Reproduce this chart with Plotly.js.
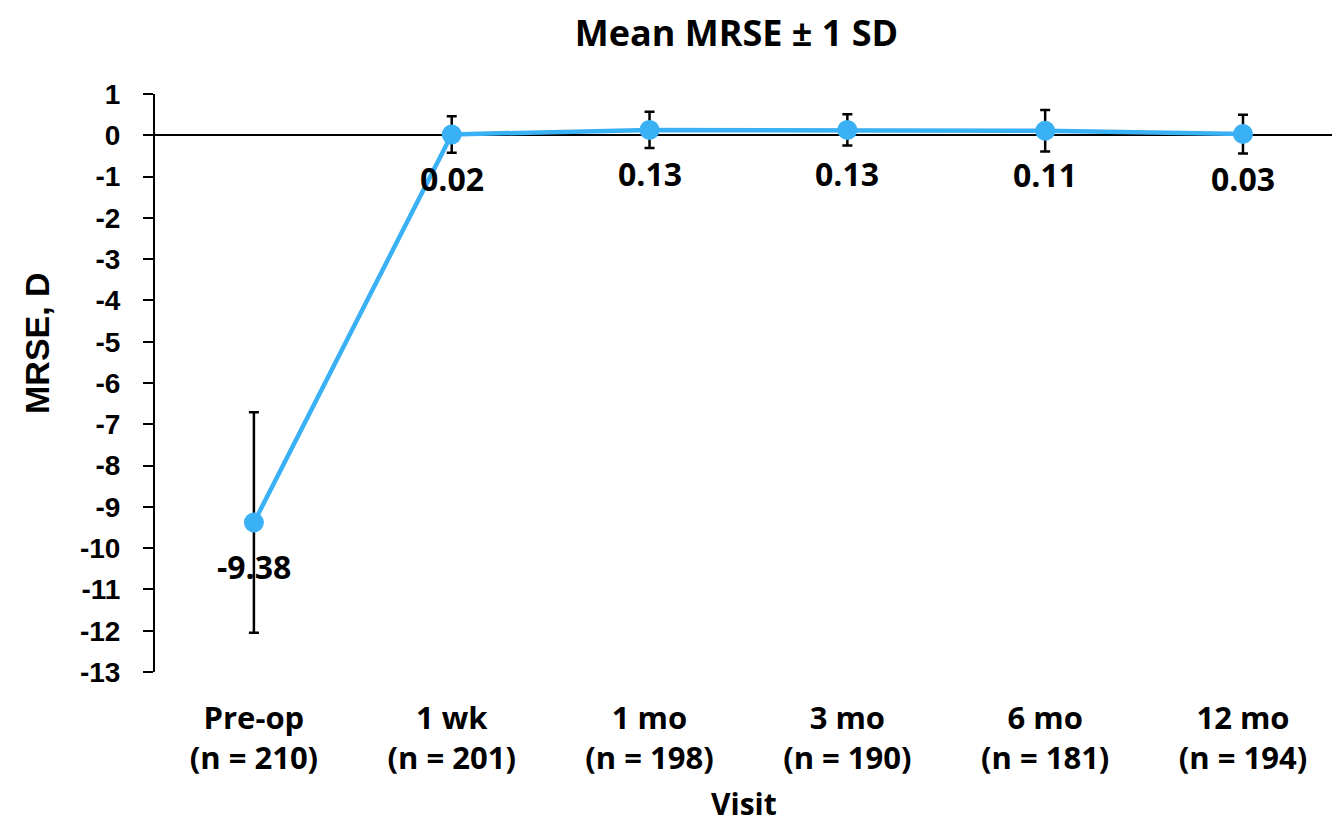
<!DOCTYPE html>
<html>
<head>
<meta charset="utf-8">
<script src="https://cdn.plot.ly/plotly-3.0.1.min.js"></script>
<style>html,body{margin:0;padding:0;background:#fff;}#chart{width:1332px;height:826px;}</style>
</head>
<body>
<div id="chart"></div>
<script>
const visits = ["Pre-op", "1 wk", "1 mo", "3 mo", "6 mo", "12 mo"];
const counts = [210, 201, 198, 190, 181, 194];
const meanMRSE = [-9.38, 0.02, 0.13, 0.13, 0.11, 0.03];
const sdMRSE = [2.67, 0.44, 0.44, 0.38, 0.50, 0.47];
const yTicks = [1, 0, -1, -2, -3, -4, -5, -6, -7, -8, -9, -10, -11, -12, -13];

const cats = visits.map((v, i) => v + "<br>(n = " + counts[i] + ")");
const blue = "rgb(58,176,245)";
const labelFont = {family: "Open Sans, sans-serif", size: 32, color: "#000", weight: 700};
const xFont = {family: "Open Sans, sans-serif", size: 31, color: "#000", weight: 700};

const trace = {
  x: cats,
  y: meanMRSE,
  type: "scatter",
  mode: "lines+markers",
  line: {color: blue, width: 4.5},
  marker: {color: blue, size: 20},
  error_y: {type: "data", array: sdMRSE, visible: true, color: "#000", thickness: 2.5, width: 5},
  cliponaxis: false,
  hoverinfo: "none"
};

const annotations = meanMRSE.map((v, i) => ({
  x: cats[i], y: v, xref: "x", yref: "y",
  text: v.toFixed(2), showarrow: false, yshift: -44,
  font: labelFont
}));
annotations.push({
  xref: "paper", yref: "paper", x: 0.5, y: 0, yshift: -131, yanchor: "middle",
  text: "Visit", showarrow: false,
  font: {family: "Open Sans, sans-serif", size: 30, color: "#000", weight: 700}
});
annotations.push({
  xref: "paper", yref: "paper", x: 0, xshift: -118, y: 0.5, yshift: 40,
  xanchor: "center", yanchor: "middle", textangle: -90,
  text: "MRSE, D", showarrow: false,
  font: {family: "Liberation Sans, Arial, sans-serif", size: 34, color: "#000", weight: 700}
});

const layout = {
  width: 1332, height: 826,
  margin: {l: 155, r: 0, t: 94, b: 154},
  paper_bgcolor: "#fff", plot_bgcolor: "#fff",
  showlegend: false,
  title: {text: "Mean MRSE ± 1 SD", xref: "paper", x: 0.494, xanchor: "center", y: 0.96, yanchor: "middle",
          font: {family: "Open Sans, sans-serif", size: 36, color: "#000", weight: 700}},
  xaxis: {
    type: "category", range: [-0.5, 5.45],
    showline: false, showgrid: false, zeroline: false, ticks: "",
    tickfont: xFont, ticklabelstandoff: 25
  },
  yaxis: {
    range: [-13, 1], tickvals: yTicks, ticktext: yTicks.map(String),
    showline: true, linecolor: "#000", linewidth: 2,
    ticks: "outside", ticklen: 10, tickwidth: 2, tickcolor: "#000",
    showgrid: false, zeroline: true, zerolinecolor: "#000", zerolinewidth: 2,
    ticklabelstandoff: 17,
    tickfont: {family: "Liberation Sans, Arial, sans-serif", size: 28, color: "#000", weight: 700}
  },
  annotations: annotations
};

Plotly.newPlot("chart", [trace], layout, {displayModeBar: false, staticPlot: true});
</script>
</body>
</html>
